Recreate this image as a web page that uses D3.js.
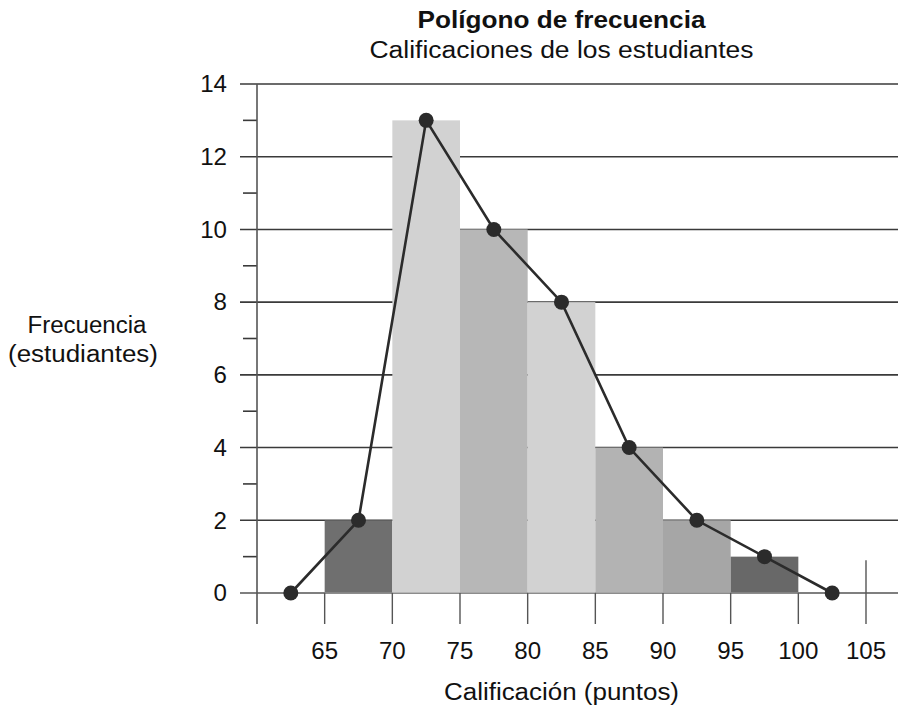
<!DOCTYPE html>
<html>
<head>
<meta charset="utf-8">
<script src="https://cdn.jsdelivr.net/npm/d3@7"></script>
<style>
  html, body { margin: 0; padding: 0; background: #fff; }
  svg { display: block; font-family: "Liberation Sans", Arial, sans-serif; }
</style>
</head>
<body>
<svg id="chart" width="898" height="707"></svg>
<script>
// Class intervals (lower bound) and frequencies
const classStarts = [65, 70, 75, 80, 85, 90, 95];
const classWidth = 5;
const frequencies = [2, 13, 10, 8, 4, 2, 1];
const barColors = ["#6f6f6f", "#d2d2d2", "#b7b7b7", "#d2d2d2", "#b3b3b3", "#a6a6a6", "#686868"];

// Polygon: class midpoints, closed with zero-frequency points at each end
const midpoints = [62.5, 67.5, 72.5, 77.5, 82.5, 87.5, 92.5, 97.5, 102.5];
const polygonFreq = [0, 2, 13, 10, 8, 4, 2, 1, 0];

const xTicks = [65, 70, 75, 80, 85, 90, 95, 100, 105];
const yMajorTicks = [0, 2, 4, 6, 8, 10, 12, 14];
const yMinorTicks = [1, 3, 5, 7, 9, 11, 13];

const svg = d3.select("#chart");
const W = 898;

const x = d3.scaleLinear().domain([60, 105]).range([257, 866]);
const y = d3.scaleLinear().domain([0, 14]).range([593, 84]);

const ink = "#2b2b2b";
const textInk = "#111";
const digitWidth = 13.4; // wide-set numerals

// Stretch a text element to a set width
function fit(sel, w) {
  return sel.attr("textLength", w).attr("lengthAdjust", "spacingAndGlyphs");
}

// Horizontal gridlines at each major y value
svg.append("g").selectAll("line").data(yMajorTicks).join("line")
  .attr("x1", x(60) - 17).attr("x2", W)
  .attr("y1", d => y(d)).attr("y2", d => y(d))
  .attr("stroke", d => d === 0 ? "#555" : "#3a3a3a")
  .attr("stroke-width", 1.6);

// Minor ticks on the y axis
svg.append("g").selectAll("line").data(yMinorTicks).join("line")
  .attr("x1", x(60) - 14).attr("x2", x(60))
  .attr("y1", d => y(d)).attr("y2", d => y(d))
  .attr("stroke", "#3a3a3a").attr("stroke-width", 1.6);

// Histogram bars
svg.append("g").selectAll("rect").data(classStarts).join("rect")
  .attr("x", d => x(d))
  .attr("width", d => x(d + classWidth) - x(d))
  .attr("y", (d, i) => y(frequencies[i]))
  .attr("height", (d, i) => y(0) - y(frequencies[i]))
  .attr("fill", (d, i) => barColors[i]);

// Faint baseline across the bar bottoms
svg.append("line")
  .attr("x1", x(65)).attr("x2", x(100))
  .attr("y1", y(0)).attr("y2", y(0))
  .attr("stroke", "#999").attr("stroke-width", 1.2);

// Y axis line
svg.append("line")
  .attr("x1", x(60)).attr("x2", x(60))
  .attr("y1", y(14)).attr("y2", y(0) + 31)
  .attr("stroke", "#555").attr("stroke-width", 1.6);

// X tick marks (the last one also rises above the baseline)
svg.append("g").selectAll("line").data(xTicks).join("line")
  .attr("x1", d => x(d)).attr("x2", d => x(d))
  .attr("y1", d => d === 105 ? y(0.9) : y(0))
  .attr("y2", y(0) + 31)
  .attr("stroke", "#555").attr("stroke-width", 1.4);

// Y tick labels
svg.append("g").selectAll("text").data(yMajorTicks).join("text")
  .attr("x", x(60) - 30).attr("y", d => y(d))
  .attr("dy", "0.36em")
  .attr("text-anchor", "end")
  .attr("font-size", 23).attr("fill", textInk)
  .attr("textLength", d => String(d).length * digitWidth)
  .attr("lengthAdjust", "spacingAndGlyphs")
  .text(d => d);

// X tick labels
svg.append("g").selectAll("text").data(xTicks).join("text")
  .attr("x", d => x(d)).attr("y", 659)
  .attr("text-anchor", "middle")
  .attr("font-size", 23).attr("fill", textInk)
  .attr("textLength", d => String(d).length * digitWidth)
  .attr("lengthAdjust", "spacingAndGlyphs")
  .text(d => d);

// Frequency polygon
const pts = midpoints.map((m, i) => [x(m), y(polygonFreq[i])]);
svg.append("path")
  .attr("d", d3.line()(pts))
  .attr("fill", "none").attr("stroke", ink).attr("stroke-width", 2.6);

svg.append("g").selectAll("circle").data(pts).join("circle")
  .attr("cx", d => d[0]).attr("cy", d => d[1]).attr("r", 7.5)
  .attr("fill", ink);

// Titles
const cx = (x(60) + x(105)) / 2;
fit(svg.append("text")
  .attr("x", cx).attr("y", 28).attr("text-anchor", "middle")
  .attr("font-size", 23).attr("font-weight", "bold").attr("fill", textInk)
  .text("Polígono de frecuencia"), 288);
fit(svg.append("text")
  .attr("x", cx).attr("y", 58).attr("text-anchor", "middle")
  .attr("font-size", 23).attr("fill", textInk)
  .text("Calificaciones de los estudiantes"), 384);

// Axis titles
fit(svg.append("text")
  .attr("x", cx).attr("y", 700).attr("text-anchor", "middle")
  .attr("font-size", 23).attr("fill", textInk)
  .text("Calificación (puntos)"), 235);
fit(svg.append("text")
  .attr("x", 87).attr("y", 333).attr("text-anchor", "middle")
  .attr("font-size", 23).attr("fill", textInk)
  .text("Frecuencia"), 119);
fit(svg.append("text")
  .attr("x", 83).attr("y", 362).attr("text-anchor", "middle")
  .attr("font-size", 23).attr("fill", textInk)
  .text("(estudiantes)"), 150);
</script>
</body>
</html>
